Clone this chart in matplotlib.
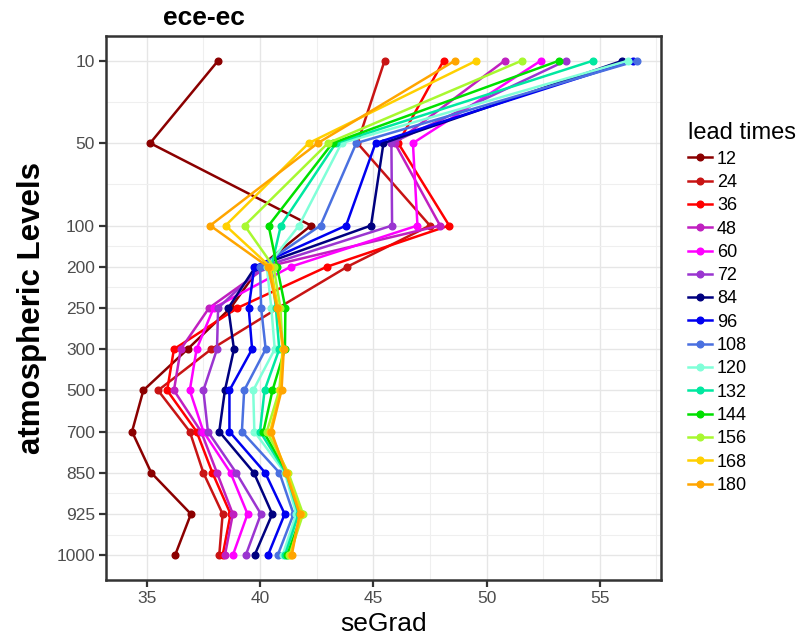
import matplotlib
matplotlib.use("Agg")
import matplotlib.pyplot as plt
from matplotlib.ticker import FixedLocator

plt.rcParams['font.family'] = ['Liberation Sans', 'DejaVu Sans']

# pressure levels (shown top to bottom) and where they sit on the axis
levels = ["10", "50", "100", "200", "250", "300", "500", "700", "850", "925", "1000"]
level_pos = [0, 2, 4, 5, 6, 7, 8, 9, 10, 11, 12]

lead_times = ["12", "24", "36", "48", "60", "72", "84", "96", "108", "120", "132", "144", "156", "168", "180"]
colors = ["#8B0000", "#C81414", "#FF0000", "#C020C0", "#FF00FF", "#9A35D0", "#00007F", "#0000F0",
          "#4A70E0", "#80FFD8", "#00E8A0", "#00E000", "#A8F830", "#FFD000", "#FFA500"]

# seGrad per level, one list per lead time
lt12 = [38.15, 35.15, 42.25, 40.0, 38.7, 36.8, 34.85, 34.35, 35.2, 36.95, 36.25]
lt24 = [45.5, 44.3, 47.5, 43.85, 40.8, 37.85, 35.5, 36.9, 37.5, 38.35, 38.2]
lt36 = [48.1, 46.1, 48.35, 42.95, 39.0, 36.2, 35.9, 37.2, 37.9, 38.7, 38.35]
lt48 = [50.8, 45.95, 47.95, 40.3, 37.75, 36.5, 36.2, 37.4, 38.1, 38.8, 38.45]
lt60 = [52.4, 46.75, 46.95, 41.35, 37.95, 37.2, 36.9, 37.5, 38.7, 39.45, 38.8]
lt72 = [53.5, 45.8, 45.83, 40.1, 38.15, 38.1, 37.5, 37.7, 38.95, 40.04, 39.37]
lt84 = [56.0, 45.45, 44.9, 39.8, 38.6, 38.85, 38.45, 38.2, 39.73, 40.54, 39.76]
lt96 = [56.45, 45.1, 43.8, 39.75, 39.5, 39.65, 38.65, 38.65, 40.23, 41.09, 40.35]
lt108 = [56.65, 44.25, 42.67, 40.0, 40.05, 40.25, 39.3, 39.2, 40.86, 41.48, 40.78]
lt120 = [56.25, 43.6, 41.72, 40.3, 40.5, 40.65, 39.7, 39.75, 41.1, 41.6, 41.0]
lt132 = [54.7, 43.35, 40.92, 40.5, 40.7, 40.85, 40.2, 40.0, 41.15, 41.7, 41.1]
lt144 = [53.2, 43.2, 40.38, 40.75, 41.12, 41.1, 40.55, 40.15, 41.2, 41.85, 41.2]
lt156 = [51.55, 43.0, 39.32, 40.6, 40.9, 41.0, 40.85, 40.3, 41.25, 41.9, 41.3]
lt168 = [49.55, 42.15, 38.48, 40.45, 40.8, 41.0, 40.9, 40.45, 41.2, 41.8, 41.35]
lt180 = [48.6, 42.55, 37.8, 40.35, 40.75, 41.05, 40.95, 40.5, 41.15, 41.75, 41.4]

series = [lt12, lt24, lt36, lt48, lt60, lt72, lt84, lt96, lt108, lt120, lt132, lt144, lt156, lt168, lt180]

fig = plt.figure(figsize=(8.01, 6.4), dpi=100)
ax = fig.add_axes([0.1323, 0.0938, 0.6929, 0.85])

for name, vals, col in zip(lead_times, series, colors):
    ax.plot(vals, level_pos, color=col, lw=1.8, marker='o', ms=4.8, label=name, zorder=3)

ax.set_xlim(33.2, 57.7)
ax.set_ylim(12.6, -0.6)

ax.set_xticks([35, 40, 45, 50, 55])
ax.xaxis.set_minor_locator(FixedLocator([37.5, 42.5, 47.5, 52.5, 57.5]))
ax.set_yticks(level_pos)
ax.set_yticklabels(levels)
ax.yaxis.set_minor_locator(FixedLocator([1, 3, 4.5, 5.5, 6.5, 7.5, 8.5, 9.5, 10.5, 11.5]))

ax.grid(which='major', color='#E6E6E6', lw=1.0, zorder=0)
ax.grid(which='minor', color='#EFEFEF', lw=0.8, zorder=0)
ax.set_axisbelow(True)

for s in ax.spines.values():
    s.set_color('#333333')
    s.set_linewidth(1.8)
ax.tick_params(which='major', length=5, width=1.6, color='#333333', labelsize=12.5,
               labelcolor='#4D4D4D', pad=3)
ax.tick_params(which='minor', length=0)

ax.set_xlabel('seGrad', fontsize=19, labelpad=4)
ax.set_ylabel('atmospheric Levels', fontsize=22.5, fontweight='bold', labelpad=7)

fig.text(0.255, 0.972, 'ece-ec', fontsize=19, fontweight='bold', ha='center', va='center')

leg = ax.legend(title='lead times', loc='upper left', bbox_to_anchor=(0.859, 0.809),
                bbox_transform=fig.transFigure, frameon=False, fontsize=13, title_fontsize=17,
                handlelength=1.3, handletextpad=0.3, labelspacing=0.35, borderpad=0, borderaxespad=0)
leg._legend_box.align = 'left'

fig.savefig('out.png', dpi=100, facecolor='white')
